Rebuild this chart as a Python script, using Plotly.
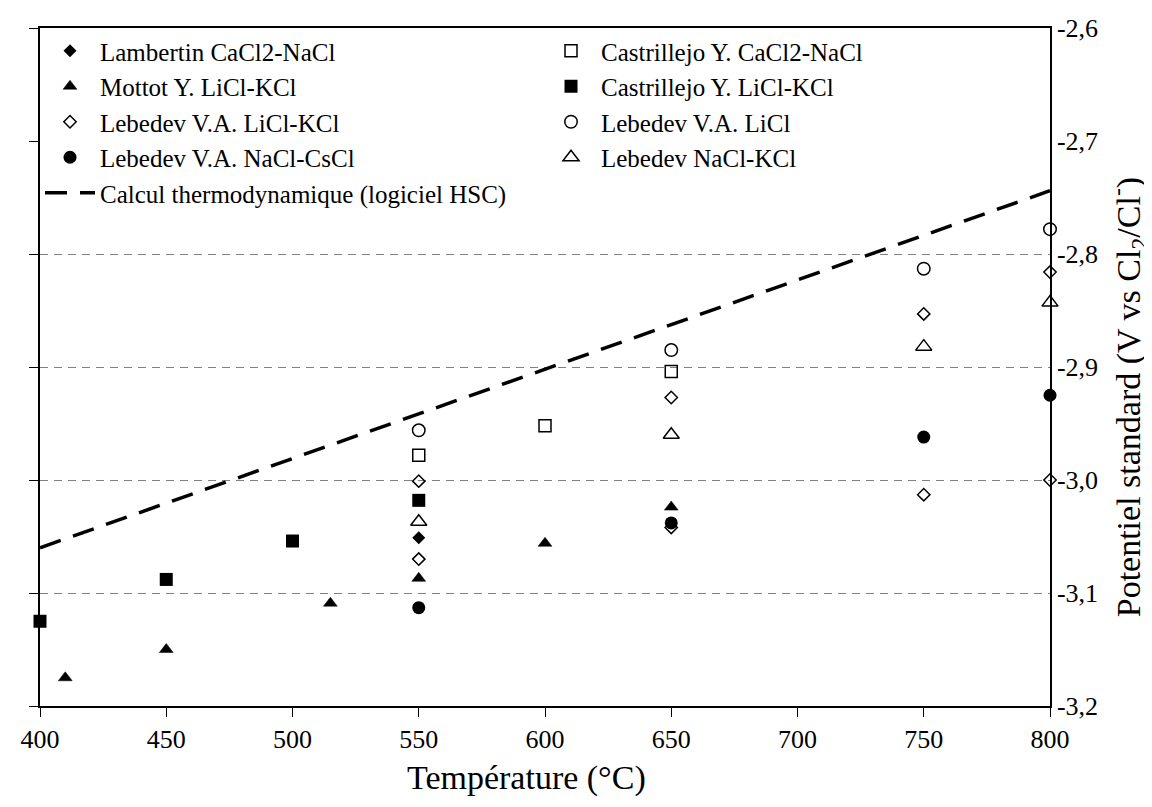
import plotly.graph_objects as go

# ---- data ----
lambertin_x = [550]
lambertin_y = [-3.051]

castr_cacl2_x = [550, 600, 650]
castr_cacl2_y = [-2.978, -2.952, -2.904]

mottot_x = [410, 450, 515, 550, 600, 650]
mottot_y = [-3.175, -3.150, -3.109, -3.087, -3.056, -3.024]

castr_licl_x = [400, 450, 500, 550]
castr_licl_y = [-3.125, -3.088, -3.054, -3.018]

lebedev_liclkcl_x = [550, 550, 650, 650, 750, 750, 800, 800]
lebedev_liclkcl_y = [-3.001, -3.070, -2.927, -3.042, -2.853, -3.013, -2.816, -3.000]

lebedev_licl_x = [550, 650, 750, 800]
lebedev_licl_y = [-2.956, -2.885, -2.813, -2.778]

lebedev_naclcscl_x = [550, 650, 750, 800]
lebedev_naclcscl_y = [-3.113, -3.038, -2.962, -2.925]

lebedev_naclkcl_x = [550, 650, 750, 800]
lebedev_naclkcl_y = [-3.037, -2.960, -2.882, -2.843]

hsc_x = [400, 800]
hsc_y = [-3.060, -2.744]

x_ticks = [400, 450, 500, 550, 600, 650, 700, 750, 800]
y_ticks = [-3.2, -3.1, -3.0, -2.9, -2.8, -2.7, -2.6]
y_ticktext = ["-3,2", "-3,1", "-3,0", "-2,9", "-2,8", "-2,7", "-2,6"]
grid_vals = [-3.1, -3.0, -2.9, -2.8]

x_title = "Température (°C)"
y_title = "Potentiel standard (V vs Cl<sub>2</sub>/Cl<sup>-</sup>)"

FONT = "Liberation Serif"

fig = go.Figure()

def pts(name, x, y, symbol, size, lw=1.5):
    fig.add_trace(go.Scatter(
        x=x, y=y, mode="markers", name=name, cliponaxis=False,
        marker=dict(symbol=symbol, size=size, color="black",
                    line=dict(color="black", width=lw)),
    ))

pts("Lambertin CaCl2-NaCl", lambertin_x, lambertin_y, "diamond", 10, 0)
pts("Castrillejo Y. CaCl2-NaCl", castr_cacl2_x, castr_cacl2_y, "square-open", 12)
pts("Mottot Y. LiCl-KCl", mottot_x, mottot_y, "triangle-up", 12, 0.5)
pts("Castrillejo Y. LiCl-KCl", castr_licl_x, castr_licl_y, "square", 13, 0)
pts("Lebedev V.A. LiCl-KCl", lebedev_liclkcl_x, lebedev_liclkcl_y, "diamond-open", 9.5)
pts("Lebedev V.A. LiCl", lebedev_licl_x, lebedev_licl_y, "circle-open", 12.5)
pts("Lebedev V.A. NaCl-CsCl", lebedev_naclcscl_x, lebedev_naclcscl_y, "circle", 13, 0)
pts("Lebedev NaCl-KCl", lebedev_naclkcl_x, lebedev_naclkcl_y, "triangle-up-open", 14)

fig.add_trace(go.Scatter(
    x=hsc_x, y=hsc_y, mode="lines", name="Calcul thermodynamique (logiciel HSC)",
    line=dict(color="black", width=3.5, dash="22px,13px"), cliponaxis=False,
))

# helper traces so the overlay axes (right labels, gridlines) are drawn
fig.add_trace(go.Scatter(x=[], y=[], yaxis="y2", showlegend=False, hoverinfo="skip"))
fig.add_trace(go.Scatter(x=[], y=[], yaxis="y3", showlegend=False, hoverinfo="skip"))

fig.update_layout(
    width=1152, height=807,
    margin=dict(l=32, r=110, t=20, b=109),
    paper_bgcolor="white", plot_bgcolor="white",
    font=dict(family=FONT, size=26, color="black"),
    showlegend=True,
    legend=dict(
        orientation="h", x=0.0, y=1.0, xanchor="left", yanchor="top",
        entrywidth=436, entrywidthmode="pixels", itemwidth=50,
        bgcolor="rgba(0,0,0,0)", borderwidth=0,
        font=dict(family=FONT, size=25, color="black"),
        traceorder="normal",
    ),
    xaxis=dict(
        range=[400, 800], tickvals=x_ticks, ticktext=[str(v) for v in x_ticks],
        ticks="outside", ticklen=9, tickwidth=1, tickcolor="black",
        showline=True, linecolor="black", linewidth=1.5, mirror=True,
        showgrid=False, zeroline=False,
        tickfont=dict(family=FONT, size=26, color="black"),
        automargin=False,
    ),
    yaxis=dict(
        range=[-3.2, -2.6], tickvals=y_ticks, showticklabels=False,
        ticks="outside", ticklen=9, tickwidth=1, tickcolor="black",
        showline=True, linecolor="black", linewidth=1.5,
        showgrid=False, zeroline=False, automargin=False,
    ),
    yaxis2=dict(
        overlaying="y", matches="y", side="right",
        range=[-3.2, -2.6], tickvals=y_ticks, ticktext=y_ticktext,
        ticks="", showline=True, linecolor="black", linewidth=1.5,
        showgrid=False, zeroline=False,
        tickfont=dict(family=FONT, size=26, color="black"),
        automargin=False,
    ),
    yaxis3=dict(
        overlaying="y", matches="y", side="left",
        range=[-3.2, -2.6], tickvals=grid_vals, showticklabels=False,
        ticks="", showline=False,
        showgrid=True, gridcolor="#808080", gridwidth=1, griddash="8px,6px",
        zeroline=False, automargin=False,
    ),
    annotations=[
        dict(text=x_title, xref="paper", yref="paper", x=0.482, y=-0.106,
             xanchor="center", yanchor="middle", showarrow=False,
             font=dict(family=FONT, size=34, color="black")),
        dict(text=y_title, xref="paper", yref="paper", x=1.077, y=0.455,
             xanchor="center", yanchor="middle", showarrow=False, textangle=-90,
             font=dict(family=FONT, size=34, color="black")),
    ],
)

fig.write_html("out.html")
